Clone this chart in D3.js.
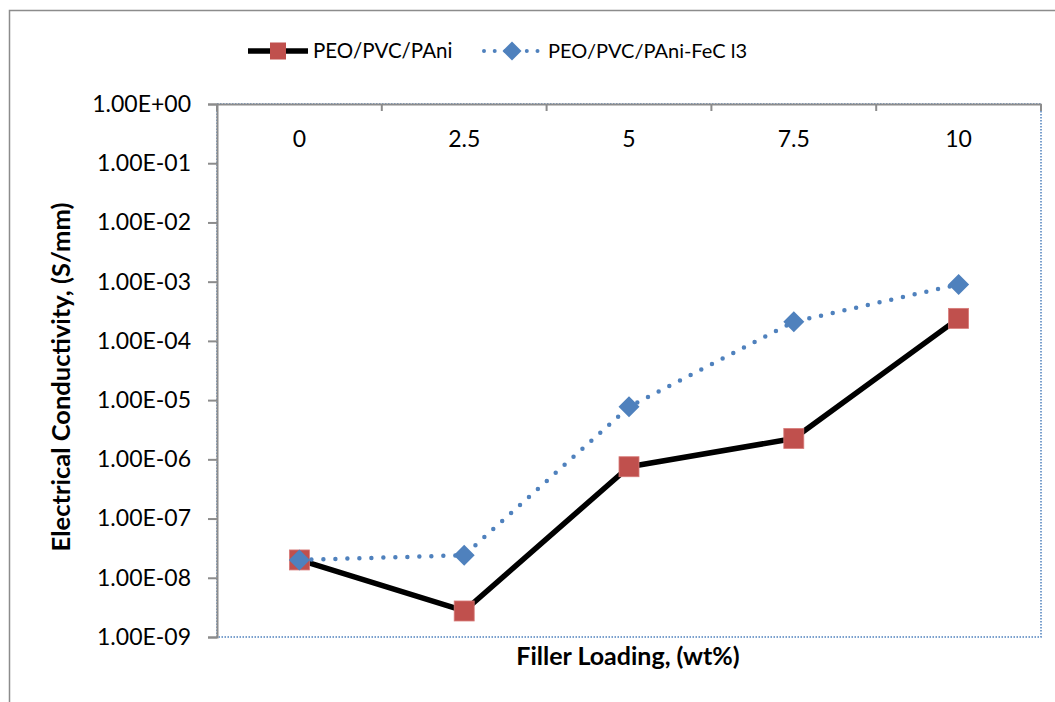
<!DOCTYPE html>
<html>
<head>
<meta charset="utf-8">
<script src="https://cdn.jsdelivr.net/npm/d3@7"></script>
<style>
  html, body { margin: 0; padding: 0; background: #fff; }
  svg { display: block; font-family: Lato, "Open Sans", sans-serif; }
</style>
</head>
<body>
<svg id="chart" width="1055" height="702"></svg>
<script>
// ---- data ----
const categories = ["0", "2.5", "5", "7.5", "10"];
const seriesNames = ["PEO/PVC/PAni", "PEO/PVC/PAni-FeC l3"];
const valuesPAni = [2.0e-8, 2.75e-9, 7.5e-7, 2.25e-6, 2.4e-4];
const valuesPAniFeCl3 = [2.0e-8, 2.4e-8, 7.7e-6, 2.1e-4, 9.0e-4];
const yTickValues = [1e0, 1e-1, 1e-2, 1e-3, 1e-4, 1e-5, 1e-6, 1e-7, 1e-8, 1e-9];
const xTitle = "Filler Loading, (wt%)";
const yTitle = "Electrical Conductivity, (S/mm)";

// ---- layout ----
const plot = { left: 217, right: 1041, top: 104, bottom: 637 };
const svg = d3.select("#chart");

const x = d3.scaleBand().domain(categories).range([plot.left, plot.right]);
const y = d3.scaleLog().domain([1e-9, 1]).range([plot.bottom, plot.top]);
const cx = d => x(d) + x.bandwidth() / 2;

const fmt = d => {
  const e = Math.round(Math.log10(d));
  return "1.00E" + (e < 0 ? "-" : "+") + String(Math.abs(e)).padStart(2, "0");
};

// outer chart frame
svg.append("rect")
  .attr("x", 9.5).attr("y", 10.5).attr("width", 1100).attr("height", 760)
  .attr("fill", "none").attr("stroke", "#8c8c8c").attr("stroke-width", 1.5);

// plot area border (blue dotted)
svg.append("rect")
  .attr("x", plot.left).attr("y", plot.top)
  .attr("width", plot.right - plot.left).attr("height", plot.bottom - plot.top)
  .attr("fill", "none").attr("stroke", "#4f81bd").attr("stroke-width", 1.5)
  .attr("stroke-dasharray", "1.5 1.5");

// y axis
const yAxis = svg.append("g")
  .attr("transform", `translate(${plot.left},0)`)
  .call(d3.axisLeft(y).tickValues(yTickValues).tickFormat(fmt).tickSize(9).tickPadding(17));
yAxis.select(".domain").attr("stroke", "#8c8c8c").attr("stroke-width", 2);
yAxis.selectAll(".tick line").attr("stroke", "#8c8c8c").attr("stroke-width", 2);
yAxis.selectAll(".tick text")
  .attr("font-size", 23).attr("fill", "#000")
  .style("font-family", "Lato, 'Open Sans', sans-serif");

// x axis (at top, labels below the line)
const xAxis = svg.append("g")
  .attr("transform", `translate(0,${plot.top})`)
  .call(d3.axisBottom(x).tickSize(0).tickPadding(27));
xAxis.select(".domain").attr("stroke", "#8c8c8c").attr("stroke-width", 2);
xAxis.selectAll(".tick text")
  .attr("font-size", 23).attr("fill", "#000")
  .style("font-family", "Lato, 'Open Sans', sans-serif");
// boundary tick marks
const boundaries = categories.map(c => x(c)).concat([plot.right]);
xAxis.selectAll(".bound")
  .data(boundaries)
  .enter().append("line")
  .attr("class", "bound")
  .attr("x1", d => d).attr("x2", d => d)
  .attr("y1", 0).attr("y2", 7)
  .attr("stroke", "#8c8c8c").attr("stroke-width", 2);

// axis titles
svg.append("text")
  .attr("x", 628).attr("y", 665)
  .attr("text-anchor", "middle")
  .attr("font-size", 25).attr("font-weight", "bold")
  .text(xTitle);
svg.append("text")
  .attr("transform", "translate(70,377) rotate(-90)")
  .attr("text-anchor", "middle")
  .attr("font-size", 25.5).attr("font-weight", "bold")
  .text(yTitle);

// ---- series ----
const line = d3.line().x(d => cx(d.c)).y(d => y(d.v));
const d1 = categories.map((c, i) => ({ c, v: valuesPAni[i] }));
const d2 = categories.map((c, i) => ({ c, v: valuesPAniFeCl3[i] }));

const sq = 20;
const squareFill = "#c0504d";
const diamondFill = "#4f81bd";
const diamondPath = "M0,-10.5L10.5,0L0,10.5L-10.5,0Z";

svg.append("path").datum(d1)
  .attr("d", line).attr("fill", "none")
  .attr("stroke", "#000").attr("stroke-width", 5.5).attr("stroke-linejoin", "round");
svg.selectAll(".sq").data(d1).enter().append("rect")
  .attr("class", "sq")
  .attr("x", d => cx(d.c) - sq / 2).attr("y", d => y(d.v) - sq / 2)
  .attr("width", sq).attr("height", sq)
  .attr("fill", squareFill).attr("stroke", "#d77a78").attr("stroke-width", 0.8);

svg.append("path").datum(d2)
  .attr("d", line).attr("fill", "none")
  .attr("stroke", diamondFill).attr("stroke-width", 4.5)
  .attr("stroke-linecap", "round").attr("stroke-dasharray", "0 12");
svg.selectAll(".dm").data(d2).enter().append("path")
  .attr("class", "dm")
  .attr("transform", d => `translate(${cx(d.c)},${y(d.v)})`)
  .attr("d", diamondPath)
  .attr("fill", diamondFill);

// ---- legend ----
const lg = svg.append("g");
const ly = 51;
lg.append("line").attr("x1", 248).attr("x2", 308).attr("y1", ly).attr("y2", ly)
  .attr("stroke", "#000").attr("stroke-width", 5.5);
lg.append("rect").attr("x", 278 - 8).attr("y", ly - 8.5).attr("width", 16).attr("height", 17)
  .attr("fill", squareFill);
lg.append("text").attr("x", 313).attr("y", 58).attr("font-size", 20.5).text(seriesNames[0]);

lg.append("line").attr("x1", 484).attr("x2", 538).attr("y1", ly).attr("y2", ly)
  .attr("stroke", diamondFill).attr("stroke-width", 4)
  .attr("stroke-linecap", "round").attr("stroke-dasharray", "0 10.7");
lg.append("path").attr("transform", `translate(512,${ly})`)
  .attr("d", "M0,-9.5L9.5,0L0,9.5L-9.5,0Z").attr("fill", diamondFill);
lg.append("text").attr("x", 548).attr("y", 58).attr("font-size", 20).text(seriesNames[1]);
</script>
</body>
</html>
